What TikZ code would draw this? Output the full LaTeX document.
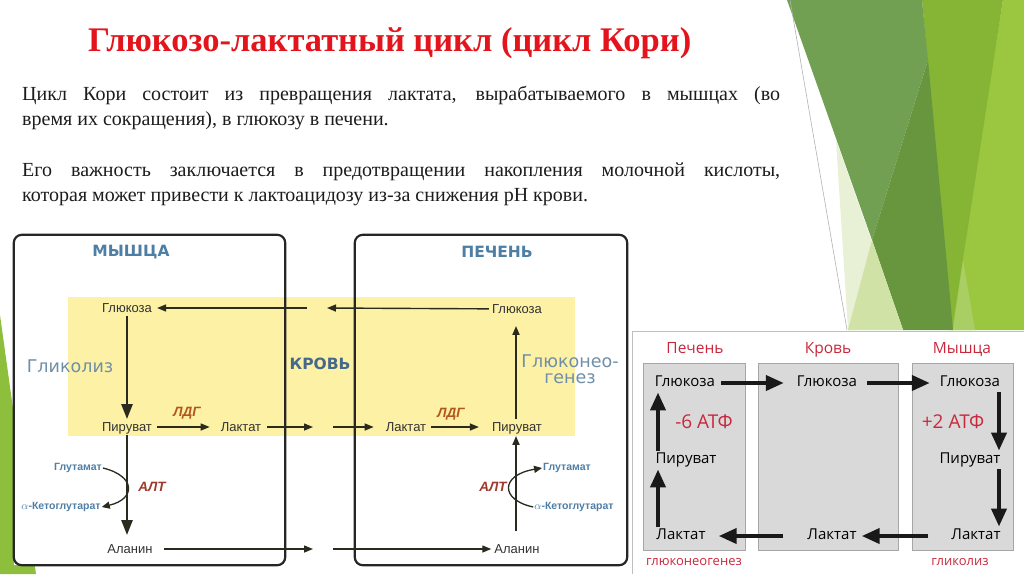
\documentclass[tikz,border=0pt]{standalone}
\usepackage{fontspec}
\setmainfont{Liberation Serif}
\newfontfamily\labsans{Liberation Sans}
\newfontfamily\headsans{DejaVu Sans}
\newfontfamily\insetsans{Open Sans}
\usetikzlibrary{arrows.meta, positioning, calc}
\definecolor{titlered}{HTML}{E3141B}
\definecolor{bodyblack}{HTML}{1C1C1C}
\definecolor{bandyellow}{HTML}{FCF1A4}
\definecolor{regionblue}{HTML}{4D7EA3}
\definecolor{bloodblue}{HTML}{46698A}
\definecolor{procblue}{HTML}{6F8FA8}
\definecolor{aminoblue}{HTML}{4F7EA6}
\definecolor{ldhbrown}{HTML}{B3561E}
\definecolor{altbrown}{HTML}{9E3A2C}
\definecolor{linkdark}{HTML}{2A2A1F}
\definecolor{metabgray}{HTML}{333333}
\definecolor{insetred}{HTML}{C8283C}
\definecolor{insetgrey}{HTML}{D9D9D9}
\definecolor{insetedge}{HTML}{A6A6A6}
\definecolor{leafbright}{HTML}{9AC640}
\definecolor{leafyellow}{HTML}{86B434}
\definecolor{leafmid}{HTML}{71A052}
\definecolor{leafdark}{HTML}{67963F}
\definecolor{leafpale}{HTML}{E8F0D6}
\definecolor{leaflight}{HTML}{D0E2A6}
\definecolor{leafsoft}{HTML}{A9CE63}
\definecolor{leafstrip}{HTML}{8DBE3C}
\tikzset{
    slidetitle/.style={
        font=\bfseries\fontsize{34.5}{40}\selectfont, text=titlered, inner sep=0pt
    },
    slidebody/.style={
        font=\fontsize{20}{25}\selectfont, text=bodyblack,
        text width=758pt, align=justify, inner sep=0pt
    },
    cellfill/.style={
        fill=white, minimum width=271pt, minimum height=330pt, inner sep=0pt
    },
    cellbox/.style={
        draw=black!85, line width=2.2pt, rounded corners=8pt
    },
    metab/.style={
        font=\labsans\fontsize{13}{15}\selectfont, text=metabgray, inner sep=3pt,
        text height=9.5pt, text depth=0pt
    },
    regionlab/.style={
        font=\headsans\bfseries\fontsize{15.5}{18}\selectfont, text=regionblue
    },
    proclab/.style={
        font=\headsans\fontsize{17.5}{16}\selectfont, text=procblue, align=center
    },
    enzyme/.style={
        font=\labsans\bfseries\itshape\fontsize{13.5}{15}\selectfont, text=#1
    },
    enzyme/.default=ldhbrown,
    amino/.style={
        font=\labsans\bfseries\fontsize{10.5}{12}\selectfont, text=aminoblue, inner sep=1pt
    },
    flowarrow/.style={
        -{Triangle[length=9pt, width=7pt]}, line width=1.4pt, draw=linkdark
    },
    mainarrow/.style={
        -{Triangle[length=15pt, width=11pt]}, line width=2.5pt, draw=linkdark
    },
    turnarrow/.style={
        -{Triangle[length=8pt, width=7pt]}, line width=1.3pt, draw=linkdark
    },
    inbox/.style={
        fill=insetgrey, draw=insetedge, line width=0.8pt,
        minimum height=187pt, inner sep=0pt
    },
    inmetab/.style={
        font=\insetsans\fontsize{15}{18}\selectfont, text=black, inner sep=0pt,
        text height=11pt, text depth=3.5pt
    },
    inhead/.style={
        font=\insetsans\fontsize{#1}{18}\selectfont, text=insetred, inner sep=0pt,
        text height=0.75em, text depth=0.25em
    },
    inhead/.default=15.5,
    inarrow/.style={
        -{Triangle[length=18pt, width=15pt]}, line width=4pt, draw=black!90
    },
}

\begin{document}
\begin{tikzpicture}[x=1pt, y=-1pt]
    \useasboundingbox (0,0) rectangle (1024,574);

    % slide decoration
    \fill[leafbright] (1003,0) -- (1024,0) -- (1024,330) -- (950,330) -- cycle;
    \fill[leafyellow] (922,0) -- (1003,0) -- (952,330) -- cycle;
    \fill[leafmid] (787,0) -- (922,0) -- (928,60) -- (872,240) -- cycle;
    \fill[leafdark] (928,60) -- (953,330) -- (903,330) -- (872,240) -- cycle;
    \fill[leafpale] (836,140) -- (903,330) -- (848,330) -- cycle;
    \fill[leaflight] (872,240) -- (903,330) -- (848,330) -- cycle;
    \fill[leafsoft] (963,260) -- (975,330) -- (953,330) -- cycle;
    \draw[black!30, line width=0.6pt] (790,0) -- (847,330);
    \fill[leafstrip] (0,315) -- (0,574) -- (36,574) -- cycle;

    % title and text
    \node[slidetitle, anchor=base west] (title) at (88,51) {Глюкозо-лактатный цикл (цикл Кори)};
    \node[slidebody, anchor=north west] (para1) at (22,86) {Цикл Кори состоит из превращения лактата, вырабатываемого в мышцах (во\linebreak время их сокращения), в глюкозу в печени.};
    \node[slidebody, anchor=north west] (para2) at (22,163) {Его важность заключается в предотвращении накопления молочной кислоты,\linebreak которая может привести к лактоацидозу из-за снижения pH крови.};

    % cells and blood band
    \node[cellfill] (muscle) at (149.5,400) {};
    \node[cellfill, minimum width=272pt] (liver) at (491,400) {};
    \fill[bandyellow] (68,297) rectangle (575,436);
    \draw[cellbox] (muscle.north west) rectangle (muscle.south east);
    \draw[cellbox] (liver.north west) rectangle (liver.south east);

    \node[regionlab] (mHead) at (131,252) {МЫШЦА};
    \node[regionlab] (lHead) at (497,252) {ПЕЧЕНЬ};
    \node[regionlab, text=bloodblue] (blood) at (320,364) {КРОВЬ};
    \node[proclab] (glyco) at (70,366) {Гликолиз};
    \node[proclab] (gneo) at (570,369) {Глюконео-\\генез};

    % muscle
    \node[metab] (mGlc) at (127,308) {Глюкоза};
    \node[metab] (mPyr) at (127,427) {Пируват};
    \node[metab] (mLac) at (241,427) {Лактат};
    \node[metab] (mAla) at (130,549) {Аланин};
    \node[amino] (mGlu) at (78,468) {Глутамат};
    \node[amino] (mKg) at (61,507) {$\alpha$-Кетоглутарат};
    \node[enzyme] (mLdh) at (187,413) {ЛДГ};
    \node[enzyme=altbrown] (mAlt) at (152,487) {АЛТ};

    % liver
    \node[metab] (lGlc) at (517,309) {Глюкоза};
    \node[metab] (lPyr) at (517,427) {Пируват};
    \node[metab] (lLac) at (406,427) {Лактат};
    \node[metab] (lAla) at (517,549) {Аланин};
    \node[amino] (lGlu) at (567,468) {Глутамат};
    \node[amino] (lKg) at (574,507) {$\alpha$-Кетоглутарат};
    \node[enzyme] (lLdh) at (451,414) {ЛДГ};
    \node[enzyme=altbrown] (lAlt) at (493,487) {АЛТ};

    % gaps in the blood band
    \coordinate (topL) at (307,308);
    \coordinate (topR) at (327,308);
    \coordinate (midL) at (313,427);
    \coordinate (midR) at (333,427);
    \coordinate (lowL) at (313,549);
    \coordinate (lowR) at (333,549);

    \draw[mainarrow] (mGlc) -- (mPyr);
    \draw[mainarrow, shorten >=6pt] (mPyr) -- (mPyr |- mAla.north);
    \draw[flowarrow, shorten <=2pt, shorten >=8pt] (mPyr) -- (mLac);
    \draw[flowarrow, shorten <=3pt] (mLac) -- (midL);
    \draw[flowarrow, shorten >=9pt] (midR) -- (lLac);
    \draw[flowarrow, shorten <=2pt, shorten >=10pt] (lLac) -- (lPyr);
    \draw[flowarrow, shorten <=8pt] (mAla) -- (lowL);
    \draw[flowarrow] (lowR) -- (lAla);
    \draw[flowarrow] (lGlc) -- (topR);
    \draw[flowarrow, shorten >=2pt] (topL) -- (mGlc);
    \draw[flowarrow, line width=1.8pt, shorten >=9pt] (lPyr.north -| 516,0) -- (lGlc.south -| 516,0);
    \draw[flowarrow, line width=1.8pt, shorten <=10pt, shorten >=1pt] (lAla.north -| 516,0) -- (lPyr.south -| 516,0);
    \draw[turnarrow] (mGlu.east) .. controls (136,476) and (136,499) .. (mKg.east);
    \draw[turnarrow] (lKg.west) .. controls (500,500) and (500,475) .. (lGlu.west);

    % inset: cycle summary
    \fill[white] (632,331) rectangle (1024,574);
    \draw[black!25, line width=0.8pt] (1024,331) -- (632,331) -- (632,574);
    \node[inbox, minimum width=102pt] (iLiver) at (694,456.5) {};
    \node[inbox, minimum width=140pt] (iBlood) at (828,456.5) {};
    \node[inbox, minimum width=101pt] (iMuscle) at (962.5,456.5) {};
    \node[inhead] (iLHead) at (695,351) {Печень};
    \node[inhead] (iBHead) at (828,351) {Кровь};
    \node[inhead] (iMHead) at (962,351) {Мышца};

    \node[inmetab] (iLGlc) at (685,383) {Глюкоза};
    \node[inmetab] (iBGlc) at (827,383) {Глюкоза};
    \node[inmetab] (iMGlc) at (970,383) {Глюкоза};
    \node[inmetab] (iLPyr) at (686,460) {Пируват};
    \node[inmetab] (iMPyr) at (970,460) {Пируват};
    \node[inmetab] (iLLac) at (681,536) {Лактат};
    \node[inmetab] (iBLac) at (832,536) {Лактат};
    \node[inmetab] (iMLac) at (976,536) {Лактат};
    \node[inhead=19] (iCost) at (704,426) {-6 АТФ};
    \node[inhead=19] (iGain) at (953,426) {+2 АТФ};
    \node[inhead=13] (iGneo) at (694,563) {глюконеогенез};
    \node[inhead=13] (iGlyc) at (960,563) {гликолиз};

    \coordinate (lcol) at (658,0);
    \coordinate (rcol) at (999,0);
    \draw[inarrow, shorten <=6pt, shorten >=13pt] (iLGlc) -- (iBGlc);
    \draw[inarrow, shorten <=10pt, shorten >=10pt] (iBGlc) -- (iMGlc);
    \draw[inarrow, shorten <=23pt, shorten >=5pt] (iMLac) -- (iBLac);
    \draw[inarrow, shorten <=24pt, shorten >=13pt] (iBLac) -- (iLLac);
    \draw[inarrow, shorten <=2pt, shorten >=2pt] (iMGlc.south -| rcol) -- (iMPyr.north -| rcol);
    \draw[inarrow, shorten <=2pt, shorten >=2pt] (iMPyr.south -| rcol) -- (iMLac.north -| rcol);
    \draw[inarrow, shorten <=2pt, shorten >=2pt] (iLLac.north -| lcol) -- (iLPyr.south -| lcol);
    \draw[inarrow, shorten <=2pt, shorten >=2pt] (iLPyr.north -| lcol) -- (iLGlc.south -| lcol);
\end{tikzpicture}
\end{document}
